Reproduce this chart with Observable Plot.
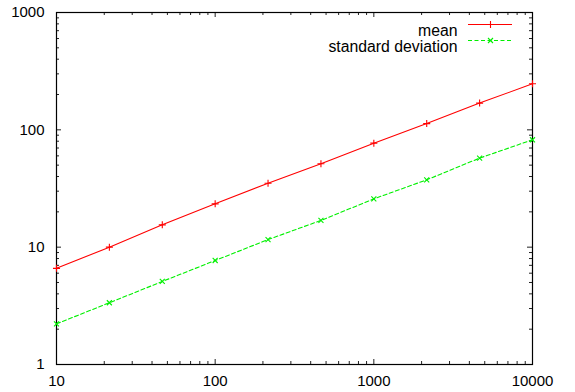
<!DOCTYPE html>
<html><head><meta charset="utf-8">
<script src="https://cdn.jsdelivr.net/npm/d3@7"></script>
<script src="https://cdn.jsdelivr.net/npm/@observablehq/plot@0.6"></script>
<style>html,body{margin:0;padding:0;background:#fff}</style>
</head><body><div id="chart"></div>
<script>
const sizes = [10, 21.54, 46.42, 100, 215.4, 464.2, 1000, 2154, 4642, 10000];
const meanValues = [6.6, 10.0, 15.5, 23.4, 35.1, 51.4, 77, 113, 169, 247];
const stdValues = [2.22, 3.36, 5.1, 7.7, 11.6, 16.9, 25.8, 37.5, 57.4, 82.3];
const seriesNames = ["mean", "standard deviation"];
const seriesColors = ["#ff0000", "#00f000"];
const xMajorTicks = [10, 100, 1000, 10000];
const xMinorTicks = [20, 30, 40, 50, 60, 70, 80, 90, 200, 300, 400, 500, 600, 700, 800, 900, 2000, 3000, 4000, 5000, 6000, 7000, 8000, 9000];
const yMajorTicks = [1, 10, 100, 1000];
const yMinorTicks = [2, 3, 4, 5, 6, 7, 8, 9, 20, 30, 40, 50, 60, 70, 80, 90, 200, 300, 400, 500, 600, 700, 800, 900];

const W = 575, H = 392, mL = 56, mR = 43, mT = 12, mB = 28;
const fw = W - mL - mR, fh = H - mT - mB;
const majorLen = 5, minorLen = 3;

const meanData = sizes.map((x, i) => ({x, y: meanValues[i]}));
const stdData = sizes.map((x, i) => ({x, y: stdValues[i]}));
const font = "'Liberation Sans', Arial, Helvetica, sans-serif";

const tickStyle = {stroke: "#222", strokeWidth: 1};
const chart = Plot.plot({
  width: W, height: H,
  marginLeft: mL, marginRight: mR, marginTop: mT, marginBottom: mB,
  x: {type: "log", domain: [10, 10000], axis: null},
  y: {type: "log", domain: [1, 1000], axis: null},
  style: {fontFamily: font, fontSize: "15px", background: "#fff", color: "#000"},
  marks: [
    // inward ticks, mirrored on all sides
    Plot.ruleX(xMajorTicks, {x: d => d, insetTop: fh - majorLen, ...tickStyle}),
    Plot.ruleX(xMajorTicks, {x: d => d, insetBottom: fh - majorLen, ...tickStyle}),
    Plot.ruleX(xMinorTicks, {x: d => d, insetTop: fh - minorLen, ...tickStyle}),
    Plot.ruleX(xMinorTicks, {x: d => d, insetBottom: fh - minorLen, ...tickStyle}),
    Plot.ruleY(yMajorTicks, {y: d => d, insetRight: fw - majorLen, ...tickStyle}),
    Plot.ruleY(yMajorTicks, {y: d => d, insetLeft: fw - majorLen, ...tickStyle}),
    Plot.ruleY(yMinorTicks, {y: d => d, insetRight: fw - minorLen, ...tickStyle}),
    Plot.ruleY(yMinorTicks, {y: d => d, insetLeft: fw - minorLen, ...tickStyle}),
    Plot.frame({stroke: "#000", strokeWidth: 1.2}),
    Plot.axisX({ticks: xMajorTicks, anchor: "bottom", tickSize: 0, tickPadding: 11, tickFormat: d => String(d), label: null, fontSize: 15, fill: "#000"}),
    Plot.axisY({ticks: yMajorTicks, anchor: "left", tickSize: 0, tickPadding: 12, tickFormat: d => String(d), label: null, fontSize: 15, fill: "#000"}),
    // data
    Plot.line(meanData, {x: "x", y: "y", stroke: seriesColors[0], strokeWidth: 1.1}),
    Plot.dot(meanData, {x: "x", y: "y", symbol: "plus", stroke: seriesColors[0], r: 2.4, strokeWidth: 1.1}),
    Plot.line(stdData, {x: "x", y: "y", stroke: seriesColors[1], strokeWidth: 1.1, strokeDasharray: "4,2.5"}),
    Plot.dot(stdData, {x: "x", y: "y", symbol: "times", stroke: seriesColors[1], r: 2.4, strokeWidth: 1.1}),
    // legend
    Plot.text([seriesNames[0]], {frameAnchor: "top-right", text: d => d, textAnchor: "end", dx: -75, dy: 12, fontSize: 15.8, fill: "#000"}),
    Plot.text([seriesNames[1]], {frameAnchor: "top-right", text: d => d, textAnchor: "end", dx: -75, dy: 28, fontSize: 15.8, fill: "#000"}),
    Plot.ruleY([1000], {y: d => d, dy: 12, insetLeft: 412, insetRight: 20, stroke: seriesColors[0], strokeWidth: 1.1}),
    Plot.ruleY([1000], {y: d => d, dy: 28, insetLeft: 412, insetRight: 20, stroke: seriesColors[1], strokeWidth: 1.1, strokeDasharray: "4,2.5"}),
    Plot.dot([0], {frameAnchor: "top-right", dx: -42, dy: 12, symbol: "plus", stroke: seriesColors[0], r: 2.4, strokeWidth: 1.1}),
    Plot.dot([0], {frameAnchor: "top-right", dx: -42, dy: 28, symbol: "times", stroke: seriesColors[1], r: 2.4, strokeWidth: 1.1})
  ]
});
document.getElementById("chart").appendChild(chart);
</script>
</body></html>
